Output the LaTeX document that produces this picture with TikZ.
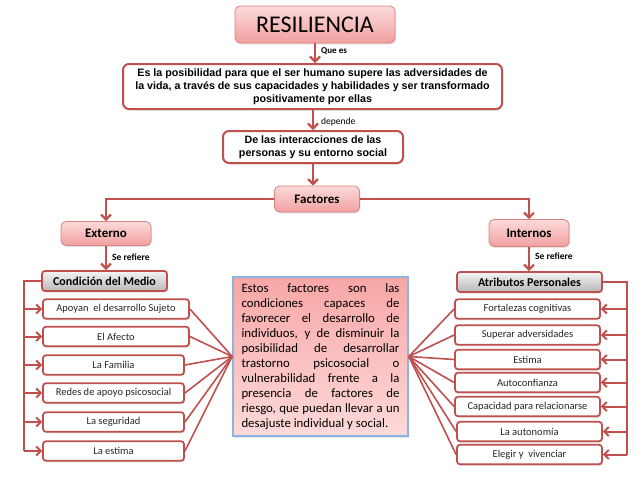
\documentclass[tikz,border=0pt]{standalone}
\usepackage{fontspec}
\setmainfont{Carlito}
\newfontfamily\arialfont{Liberation Sans}
\usetikzlibrary{arrows.meta,shadows,calc}
\hyphenpenalty=10000
\tolerance=9999
\hbadness=10000
\definecolor{rl}{HTML}{C0504D}
\definecolor{rthin}{HTML}{D9827F}
\definecolor{pkA}{HTML}{FBDADA}
\definecolor{pkB}{HTML}{F2A0A0}
\definecolor{gyA}{HTML}{F4F4F4}
\definecolor{gyB}{HTML}{B8B8B8}
\definecolor{cbA}{HTML}{F8A6A6}
\definecolor{cbB}{HTML}{FCD9D9}
\definecolor{cbBorder}{HTML}{8DB3E2}
\begin{document}
\begin{tikzpicture}[x=1pt,y=-1pt,
  shad/.style={drop shadow={opacity=0.22,shadow xshift=1pt,shadow yshift=-1.5pt}},
  pinkbox/.style={draw=rthin,line width=0.8pt,rounded corners=5pt,top color=pkA,bottom color=pkB,shad,inner sep=0pt},
  wbox/.style={draw=rl,line width=2pt,rounded corners=6pt,fill=white,shad,inner sep=0pt,align=center,font=\arialfont\bfseries\fontsize{10.7}{13}\selectfont},
  graybox/.style={draw=rl,line width=1.8pt,rounded corners=3pt,top color=gyA,bottom color=gyB,shad,inner sep=0pt,font=\bfseries\fontsize{12}{14}\selectfont},
  item/.style={draw=rl,line width=1.8pt,rounded corners=3pt,fill=white,shad,inner sep=0pt,minimum height=19.5pt,text=black!85,font=\fontsize{10.5}{12}\selectfont},
  cbox/.style={draw=cbBorder,line width=1.6pt,top color=cbA,bottom color=cbB,shad,text width=158pt,inner xsep=8.5pt,inner ysep=0pt,minimum height=159pt,align=justify,font=\fontsize{12.8}{15}\selectfont},
  lbl/.style={inner sep=0pt,anchor=west,font=\fontsize{9.5}{11}\selectfont},
  arr/.style={draw=rl,line width=2.2pt,-{Straight Barb[length=5pt,width=10pt]}},
  sarr/.style={draw=rl,line width=2pt,-{Straight Barb[length=4.5pt,width=9pt]}},
  brk/.style={draw=rl,line width=2pt},
  conv/.style={draw=rl,line width=1.6pt}
]
\useasboundingbox (0,0) rectangle (640,480);

% top chain
\node[pinkbox,minimum width=160pt,minimum height=37pt,font=\fontsize{24}{28}\selectfont] (title) at (315,24.5) {RESILIENCIA};
\node[wbox,minimum width=379pt,minimum height=45pt] (def) at (312.5,86.5)
  {Es la posibilidad para que el ser humano supere las adversidades de\\la vida, a través de sus capacidades y habilidades y ser transformado\\positivamente por ellas};
\node[wbox,minimum width=180pt,minimum height=32pt] (inter) at (313,147)
  {De las interacciones de las\\personas y su entorno social};
\node[pinkbox,minimum width=85pt,minimum height=26pt,font=\bfseries\fontsize{13}{15}\selectfont] (fact) at (317,199) {Factores};
\node[pinkbox,minimum width=90pt,minimum height=24pt,font=\bfseries\fontsize{13}{15}\selectfont] (ext) at (106,233.5) {Externo};
\node[pinkbox,minimum width=80pt,minimum height=27pt,font=\bfseries\fontsize{13}{15}\selectfont] (int) at (529,233) {Internos};

\draw[arr] (title.south) -- (title.south |- def.north);
\node[lbl,font=\bfseries\fontsize{9}{11}\selectfont] (qe) at (321,51.5) {Que es};
\draw[arr] (inter.north |- def.south) -- (inter.north);
\node[lbl] (dep) at (321,121.5) {depende};
\draw[arr] (inter.south) -- (inter.south |- fact.north);
\draw[arr] (fact.west) -| (ext.north);
\draw[arr] (fact.east) -| (int.north);

% second level
\node[graybox,minimum width=125pt,minimum height=20pt] (cond) at (104.5,281) {Condición del Medio};
\node[graybox,minimum width=145pt,minimum height=20pt] (atr) at (529.5,282) {Atributos Personales};
\draw[arr] (ext.south) -- (ext.south |- cond.north);
\node[lbl,font=\bfseries\fontsize{9.5}{11}\selectfont] (sr1) at (112,257) {Se refiere};
\draw[arr] (int.south) -- (int.south |- atr.north);
\node[lbl,font=\bfseries\fontsize{9.5}{11}\selectfont] (sr2) at (535,256) {Se refiere};

% centre box
\node[cbox] (cb) at (320.5,356.5) {Estos factores son las\linebreak condiciones capaces de\linebreak favorecer el desarrollo de\linebreak individuos, y de disminuir la\linebreak posibilidad de desarrollar\linebreak trastorno psicosocial o\linebreak vulnerabilidad frente a la\linebreak presencia de factores de\linebreak riesgo, que puedan llevar a un\linebreak desajuste individual y social.};

% left items
\node[item,minimum width=146pt] (l1) at (116,309) {Apoyan\ \ el desarrollo Sujeto};
\node[item,minimum width=146pt] (l2) at (116,336.5) {El Afecto};
\node[item,minimum width=141pt] (l3) at (113.5,365) {La Familia};
\node[item,minimum width=141pt] (l4) at (113.5,393) {Redes de apoyo psicosocial};
\node[item,minimum width=141pt] (l5) at (113.5,422) {La seguridad};
\node[item,minimum width=141pt] (l6) at (113.5,451) {La estima};

% right items
\node[item,minimum width=145pt] (r1) at (527.5,309) {Fortalezas cognitivas};
\node[item,minimum width=145pt] (r2) at (527.5,335) {Superar adversidades};
\node[item,minimum width=145pt] (r3) at (527.5,359.5) {Estima};
\node[item,minimum width=145pt] (r4) at (527.5,382.5) {Autoconfianza};
\node[item,minimum width=145pt] (r5) at (527.5,406.5) {Capacidad para relacionarse};
\node[item,minimum width=145pt] (r6) at (529.5,431.5) {La autonomía};
\node[item,minimum width=145pt] (r7) at (529.5,454.5) {Elegir y\ \ vivenciar};

% left bracket
\coordinate (lb) at (24,281);
\draw[brk] (cond.west) -- (lb) -- (lb |- l6.west);
\foreach \n in {l1,l2,l3,l4,l5,l6} {\draw[sarr] (lb |- \n.west) -- (\n.west);}
% right bracket
\coordinate (rb) at (627,282);
\draw[brk] (atr.east) -- (rb) -- (rb |- r7.east);
\foreach \n in {r1,r2,r3,r4,r5,r6,r7} {\draw[sarr] (rb |- \n.east) -- (\n.east);}

% converging lines
\foreach \n in {l1,l2,l3,l4,l5,l6} {\draw[conv] (\n.east) -- (cb.west);}
\foreach \n in {r1,r2,r3,r4,r5,r6,r7} {\draw[conv] (\n.west) -- (cb.east);}
\end{tikzpicture}
\end{document}
